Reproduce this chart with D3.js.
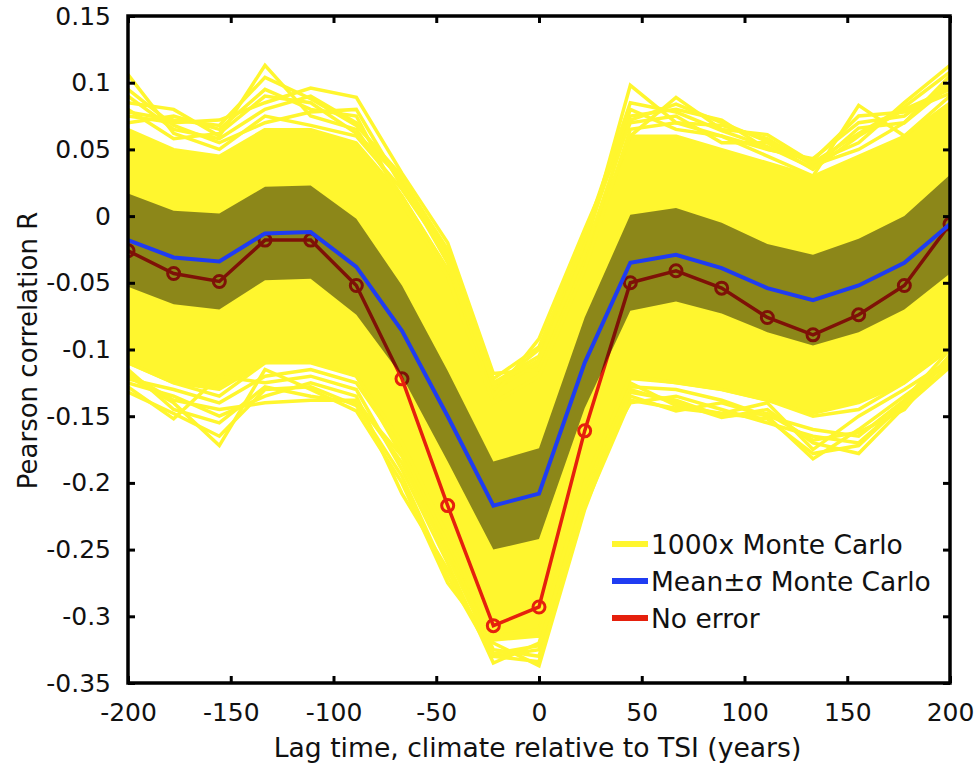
<!DOCTYPE html>
<html>
<head>
<meta charset="utf-8">
<script src="https://cdn.jsdelivr.net/npm/d3@7/dist/d3.min.js"></script>
<style>
  html, body { margin: 0; padding: 0; background: #fff; }
  svg { display: block; }
  text { font-family: "DejaVu Sans", sans-serif; fill: #111; }
</style>
</head>
<body>
<svg id="chart" width="978" height="766"></svg>
<script>
// Lag grid (years), climate relative to TSI
const lags = [-200, -177.78, -155.56, -133.33, -111.11, -88.89, -66.67, -44.44, -22.22, 0,
              22.22, 44.44, 66.67, 88.89, 111.11, 133.33, 155.56, 177.78, 200];

// Correlation without dating error
const noError = [-0.026, -0.043, -0.049, -0.018, -0.018, -0.052, -0.122, -0.217, -0.307, -0.293,
                 -0.161, -0.050, -0.041, -0.054, -0.076, -0.089, -0.074, -0.052, -0.006];

// Monte Carlo ensemble mean and standard deviation
const mcMean = [-0.018, -0.031, -0.034, -0.013, -0.012, -0.038, -0.086, -0.150, -0.217, -0.208,
                -0.110, -0.035, -0.029, -0.039, -0.054, -0.063, -0.052, -0.035, -0.006];
const mcSigma = [0.035, 0.035, 0.036, 0.035, 0.035, 0.036, 0.034, 0.034, 0.033, 0.034,
                 0.034, 0.036, 0.035, 0.034, 0.033, 0.034, 0.035, 0.035, 0.037];

// Core of the 1000 Monte Carlo realisations (densely overlapping runs)
const mcCoreUpper = [0.065, 0.050, 0.045, 0.065, 0.065, 0.055, 0.015, -0.040, -0.125, -0.110,
                     -0.030, 0.060, 0.060, 0.050, 0.040, 0.030, 0.045, 0.060, 0.085];
const mcCoreLower = [-0.110, -0.125, -0.130, -0.110, -0.108, -0.120, -0.180, -0.255, -0.318, -0.315,
                     -0.205, -0.122, -0.125, -0.130, -0.138, -0.148, -0.140, -0.125, -0.100];

// Outlying individual realisations
const mcRunsHigh = [
  [0.106, 0.062, 0.050, 0.075, 0.068, 0.060, 0.020, -0.030, -0.125, -0.105, -0.025, 0.098, 0.070, 0.060, 0.045, 0.030, 0.083, 0.060, 0.090],
  [0.085, 0.080, 0.060, 0.113, 0.075, 0.065, 0.015, -0.040, -0.130, -0.110, -0.030, 0.060, 0.089, 0.065, 0.061, 0.040, 0.055, 0.085, 0.113],
  [0.075, 0.070, 0.072, 0.085, 0.096, 0.089, 0.032, -0.020, -0.118, -0.115, -0.035, 0.075, 0.080, 0.072, 0.050, 0.043, 0.070, 0.075, 0.100],
  [0.090, 0.065, 0.058, 0.080, 0.090, 0.070, 0.025, -0.035, -0.135, -0.092, -0.010, 0.070, 0.075, 0.055, 0.055, 0.035, 0.060, 0.080, 0.095],
  [0.070, 0.075, 0.065, 0.095, 0.080, 0.075, 0.010, -0.045, -0.140, -0.120, -0.040, 0.065, 0.070, 0.068, 0.058, 0.038, 0.050, 0.070, 0.105],
  [0.080, 0.058, 0.062, 0.090, 0.085, 0.062, 0.028, -0.025, -0.128, -0.100, -0.020, 0.080, 0.065, 0.060, 0.050, 0.042, 0.075, 0.078, 0.092],
  [0.095, 0.068, 0.055, 0.070, 0.078, 0.080, 0.022, -0.028, -0.122, -0.098, -0.015, 0.085, 0.078, 0.064, 0.052, 0.036, 0.066, 0.070, 0.098],
  [0.078, 0.072, 0.068, 0.104, 0.088, 0.068, 0.030, -0.032, -0.126, -0.108, -0.028, 0.072, 0.084, 0.070, 0.056, 0.040, 0.062, 0.082, 0.108]
];
const mcRunsLow = [
  [-0.128, -0.152, -0.120, -0.125, -0.120, -0.130, -0.190, -0.260, -0.335, -0.320, -0.210, -0.135, -0.146, -0.140, -0.150, -0.182, -0.160, -0.135, -0.110],
  [-0.120, -0.140, -0.172, -0.115, -0.130, -0.146, -0.200, -0.275, -0.320, -0.337, -0.220, -0.130, -0.140, -0.151, -0.145, -0.170, -0.178, -0.143, -0.113],
  [-0.125, -0.135, -0.150, -0.135, -0.125, -0.135, -0.208, -0.265, -0.330, -0.325, -0.200, -0.140, -0.135, -0.145, -0.155, -0.165, -0.170, -0.140, -0.105],
  [-0.115, -0.145, -0.155, -0.128, -0.135, -0.140, -0.180, -0.250, -0.325, -0.330, -0.215, -0.125, -0.142, -0.148, -0.140, -0.175, -0.150, -0.130, -0.108],
  [-0.122, -0.130, -0.140, -0.120, -0.115, -0.125, -0.175, -0.245, -0.315, -0.310, -0.205, -0.128, -0.130, -0.138, -0.150, -0.160, -0.165, -0.138, -0.100],
  [-0.110, -0.125, -0.135, -0.110, -0.110, -0.120, -0.170, -0.240, -0.315, -0.315, -0.200, -0.120, -0.125, -0.130, -0.138, -0.150, -0.145, -0.125, -0.098],
  [-0.132, -0.148, -0.165, -0.130, -0.128, -0.142, -0.195, -0.270, -0.330, -0.334, -0.218, -0.138, -0.144, -0.148, -0.152, -0.178, -0.172, -0.140, -0.112],
  [-0.118, -0.138, -0.145, -0.140, -0.138, -0.138, -0.185, -0.255, -0.328, -0.322, -0.212, -0.132, -0.138, -0.150, -0.148, -0.168, -0.162, -0.145, -0.104]
];

// Axis ticks
const xTicks = [-200, -150, -100, -50, 0, 50, 100, 150, 200];
const xTickLabels = ["-200", "-150", "-100", "-50", "0", "50", "100", "150", "200"];
const yTicks = [0.15, 0.1, 0.05, 0, -0.05, -0.1, -0.15, -0.2, -0.25, -0.3, -0.35];
const yTickLabels = ["0.15", "0.1", "0.05", "0", "-0.05", "-0.1", "-0.15", "-0.2", "-0.25", "-0.3", "-0.35"];

// Legend entries
const legendLabels = ["1000x Monte Carlo", "Mean\u00b1\u03c3 Monte Carlo", "No error"];

const colors = {
  yellow: "#fff62e",
  blue: "#1f3cf2",
  red: "#e5200d",
  band: "rgba(0,0,0,0.45)"
};

const svg = d3.select("#chart");
const plot = { left: 128, right: 950, top: 16, bottom: 683 };

const x = d3.scaleLinear().domain([-200, 200]).range([plot.left, plot.right]);
const y = d3.scaleLinear().domain([-0.35, 0.15]).range([plot.bottom, plot.top]);

svg.append("defs").append("clipPath").attr("id", "plotClip")
  .append("rect")
  .attr("x", plot.left).attr("y", plot.top)
  .attr("width", plot.right - plot.left).attr("height", plot.bottom - plot.top);

const g = svg.append("g").attr("clip-path", "url(#plotClip)");

const line = d3.line().x((d, i) => x(lags[i])).y(d => y(d));

// Dense core of the ensemble
const coreArea = d3.area()
  .x((d, i) => x(lags[i]))
  .y0((d, i) => y(mcCoreLower[i]))
  .y1(d => y(d));
g.append("path").datum(mcCoreUpper)
  .attr("d", coreArea)
  .attr("fill", colors.yellow)
  .attr("stroke", colors.yellow)
  .attr("stroke-width", 3)
  .attr("stroke-linejoin", "round");

// Individual ensemble members
g.selectAll("path.run")
  .data(mcRunsHigh.concat(mcRunsLow))
  .join("path")
  .attr("class", "run")
  .attr("d", line)
  .attr("fill", "none")
  .attr("stroke", colors.yellow)
  .attr("stroke-width", 3.5)
  .attr("stroke-linejoin", "miter");

// No-error correlation with markers
g.append("path").datum(noError)
  .attr("d", line)
  .attr("fill", "none")
  .attr("stroke", colors.red)
  .attr("stroke-width", 3.5);
g.selectAll("circle.pt")
  .data(noError)
  .join("circle")
  .attr("class", "pt")
  .attr("cx", (d, i) => x(lags[i]))
  .attr("cy", d => y(d))
  .attr("r", 6)
  .attr("fill", "none")
  .attr("stroke", colors.red)
  .attr("stroke-width", 3);

// Mean ± sigma band (translucent, darkens what lies beneath)
const band = d3.area()
  .x((d, i) => x(lags[i]))
  .y0((d, i) => y(d - mcSigma[i]))
  .y1((d, i) => y(d + mcSigma[i]));
g.append("path").datum(mcMean)
  .attr("d", band)
  .attr("fill", colors.band);

// Ensemble mean
g.append("path").datum(mcMean)
  .attr("d", line)
  .attr("fill", "none")
  .attr("stroke", colors.blue)
  .attr("stroke-width", 4);

// Axes: ticks inward on all four sides
const axisStyle = sel => {
  sel.select(".domain").remove();
  sel.selectAll(".tick line").attr("stroke", "#000").attr("stroke-width", 3);
  sel.selectAll(".tick text").style("font-size", "25px").attr("fill", "#111");
};

svg.append("g")
  .attr("transform", `translate(0,${plot.bottom})`)
  .call(d3.axisBottom(x).tickValues(xTicks).tickSize(-7).tickPadding(20)
    .tickFormat((d, i) => xTickLabels[i]))
  .call(axisStyle);
svg.append("g")
  .attr("transform", `translate(0,${plot.top})`)
  .call(d3.axisTop(x).tickValues(xTicks).tickSize(-7).tickFormat(""))
  .call(axisStyle);
svg.append("g")
  .attr("transform", `translate(${plot.left},0)`)
  .call(d3.axisLeft(y).tickValues(yTicks).tickSize(-7).tickPadding(17)
    .tickFormat((d, i) => yTickLabels[i]))
  .call(axisStyle);
svg.append("g")
  .attr("transform", `translate(${plot.right},0)`)
  .call(d3.axisRight(y).tickValues(yTicks).tickSize(-7).tickFormat(""))
  .call(axisStyle);

// Frame
svg.append("rect")
  .attr("x", plot.left).attr("y", plot.top)
  .attr("width", plot.right - plot.left).attr("height", plot.bottom - plot.top)
  .attr("fill", "none").attr("stroke", "#000").attr("stroke-width", 3.5);

// Axis titles
svg.append("text")
  .attr("x", (plot.left + plot.right) / 2 - 1.5)
  .attr("y", 757)
  .attr("text-anchor", "middle")
  .style("font-size", "26.6px")
  .text("Lag time, climate relative to TSI (years)");
svg.append("text")
  .attr("transform", `translate(37,${(plot.top + plot.bottom) / 2 + 1}) rotate(-90)`)
  .attr("text-anchor", "middle")
  .style("font-size", "26px")
  .text("Pearson correlation R");

// Legend
const legendColors = [colors.yellow, colors.blue, colors.red];
const legend = svg.append("g").attr("transform", "translate(612,544)");
legendLabels.forEach((label, i) => {
  const row = legend.append("g").attr("transform", `translate(0,${i * 37})`);
  row.append("line")
    .attr("x1", 0).attr("x2", 36).attr("y1", 0).attr("y2", 0)
    .attr("stroke", legendColors[i]).attr("stroke-width", 6);
  row.append("text")
    .attr("x", 39).attr("y", 0).attr("dy", "0.36em")
    .style("font-size", "26.5px")
    .text(label);
});
</script>
</body>
</html>
